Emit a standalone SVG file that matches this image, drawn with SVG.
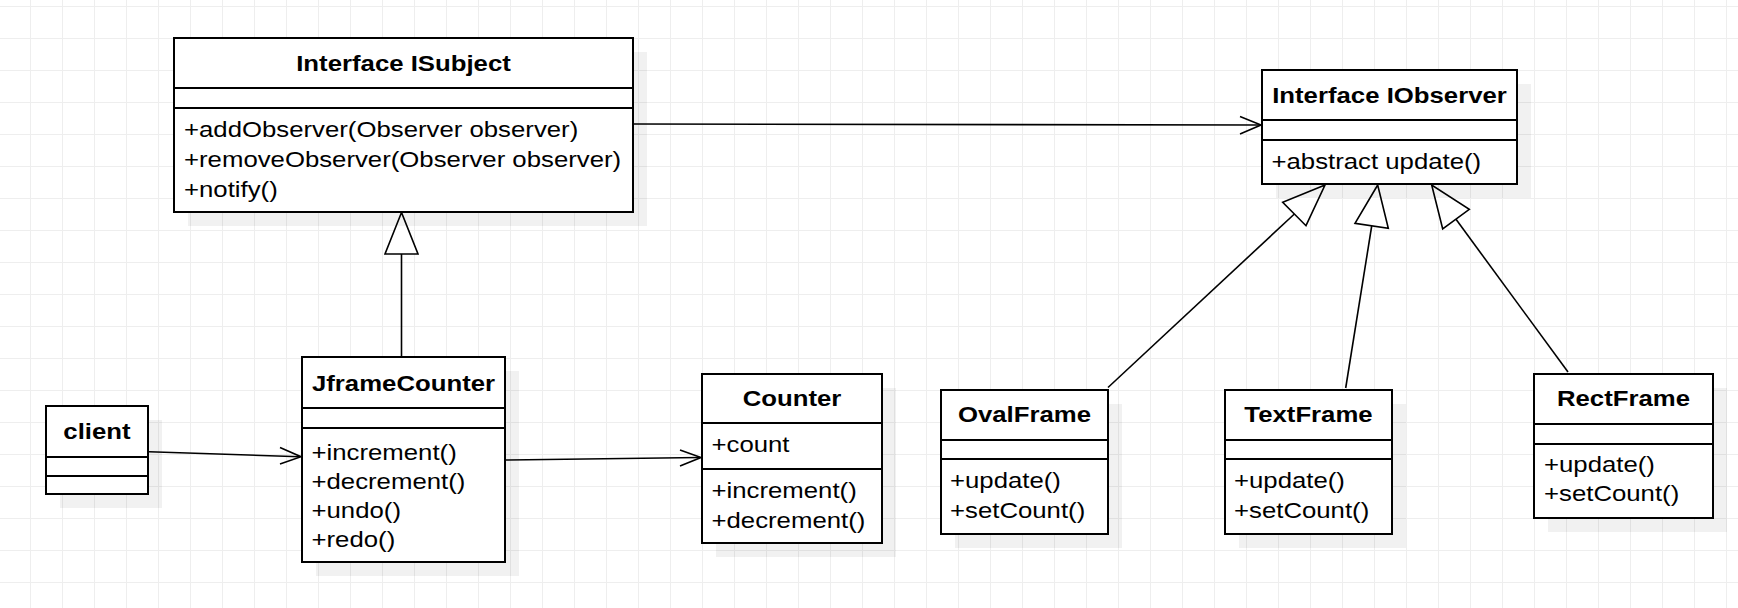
<svg xmlns="http://www.w3.org/2000/svg" width="1738" height="608" viewBox="0 0 1738 608">
<defs>
<pattern id="grid" x="30" y="6" width="32" height="32" patternUnits="userSpaceOnUse">
<path d="M0 0.5H32M0.5 0V32" fill="none" stroke="#eeeeee" stroke-width="1"/>
</pattern>
<style>
.box{fill:#fff;stroke:#000;stroke-width:2}
.sh{fill:#000;fill-opacity:0.055}
.sep{stroke:#000;stroke-width:2}
.ln{fill:none;stroke:#000;stroke-width:1.6}
.tri{fill:#fff;stroke:#000;stroke-width:1.6;stroke-linejoin:miter}
.t{font-family:"Liberation Sans",Arial,sans-serif;font-size:23px;font-weight:bold;text-anchor:middle;fill:#000}
.m{font-family:"Liberation Sans",Arial,sans-serif;font-size:23px;fill:#000}
</style>
</defs>
<rect width="1738" height="608" fill="#fff"/>
<rect width="1738" height="608" fill="url(#grid)"/>

<g id="connectors">
<line class="ln" x1="634" y1="124" x2="1260" y2="125"/>
<polyline class="ln" points="1240,116.5 1261,125 1240,134"/>
<line class="ln" x1="149" y1="451.7" x2="300" y2="456.7"/>
<polyline class="ln" points="280,447.5 301,456.7 280,464"/>
<line class="ln" x1="506" y1="460" x2="700" y2="457.5"/>
<polyline class="ln" points="680,450 701,457.5 680,466"/>
<line class="ln" x1="401.5" y1="356" x2="401.5" y2="254"/>
<polygon class="tri" points="401.5,212.5 385,254 418,254"/>
<line class="ln" x1="1108" y1="387.5" x2="1294.4" y2="214"/>
<polygon class="tri" points="1325,185 1282.7,202.3 1306,225.7"/>
<line class="ln" x1="1345.7" y1="388" x2="1371.7" y2="226"/>
<polygon class="tri" points="1377.7,185 1355,223.3 1388.3,228.3"/>
<line class="ln" x1="1568" y1="372" x2="1456" y2="219.3"/>
<polygon class="tri" points="1431.7,185 1442.7,229 1469.3,209.3"/>
</g>

<g id="ISubject">
<rect class="sh" x="188" y="52" width="459" height="174"/>
<rect class="box" x="174" y="38" width="459" height="174"/>
<line class="sep" x1="174" y1="88" x2="633" y2="88"/>
<line class="sep" x1="174" y1="108" x2="633" y2="108"/>
<text class="t" transform="translate(403.5,71) scale(1.12,1)">Interface ISubject</text>
<text class="m" transform="translate(184,137) scale(1.12,1)">+addObserver(Observer observer)</text>
<text class="m" transform="translate(184,167) scale(1.12,1)">+removeObserver(Observer observer)</text>
<text class="m" transform="translate(184,197) scale(1.12,1)">+notify()</text>
</g>

<g id="IObserver">
<rect class="sh" x="1276" y="84" width="255" height="114"/>
<rect class="box" x="1262" y="70" width="255" height="114"/>
<line class="sep" x1="1262" y1="120" x2="1517" y2="120"/>
<line class="sep" x1="1262" y1="140" x2="1517" y2="140"/>
<text class="t" transform="translate(1389.5,103) scale(1.12,1)">Interface IObserver</text>
<text class="m" transform="translate(1271.5,169) scale(1.12,1)">+abstract update()</text>
</g>

<g id="client">
<rect class="sh" x="60" y="420" width="102" height="88"/>
<rect class="box" x="46" y="406" width="102" height="88"/>
<line class="sep" x1="46" y1="457" x2="148" y2="457"/>
<line class="sep" x1="46" y1="476" x2="148" y2="476"/>
<text class="t" transform="translate(97,439) scale(1.12,1)">client</text>
</g>

<g id="JframeCounter">
<rect class="sh" x="316" y="371" width="203" height="205"/>
<rect class="box" x="302" y="357" width="203" height="205"/>
<line class="sep" x1="302" y1="408" x2="505" y2="408"/>
<line class="sep" x1="302" y1="428" x2="505" y2="428"/>
<text class="t" transform="translate(403.5,391) scale(1.12,1)">JframeCounter</text>
<text class="m" transform="translate(311.5,460) scale(1.12,1)">+increment()</text>
<text class="m" transform="translate(311.5,489) scale(1.12,1)">+decrement()</text>
<text class="m" transform="translate(311.5,518) scale(1.12,1)">+undo()</text>
<text class="m" transform="translate(311.5,547) scale(1.12,1)">+redo()</text>
</g>

<g id="Counter">
<rect class="sh" x="716" y="388" width="180" height="169"/>
<rect class="box" x="702" y="374" width="180" height="169"/>
<line class="sep" x1="702" y1="423" x2="882" y2="423"/>
<line class="sep" x1="702" y1="469" x2="882" y2="469"/>
<text class="t" transform="translate(792,406) scale(1.12,1)">Counter</text>
<text class="m" transform="translate(711.5,452) scale(1.12,1)">+count</text>
<text class="m" transform="translate(711.5,498) scale(1.12,1)">+increment()</text>
<text class="m" transform="translate(711.5,528) scale(1.12,1)">+decrement()</text>
</g>

<g id="OvalFrame">
<rect class="sh" x="955" y="404" width="167" height="144"/>
<rect class="box" x="941" y="390" width="167" height="144"/>
<line class="sep" x1="941" y1="440" x2="1108" y2="440"/>
<line class="sep" x1="941" y1="459" x2="1108" y2="459"/>
<text class="t" transform="translate(1024.5,422) scale(1.12,1)">OvalFrame</text>
<text class="m" transform="translate(950,488) scale(1.12,1)">+update()</text>
<text class="m" transform="translate(950,518) scale(1.12,1)">+setCount()</text>
</g>

<g id="TextFrame">
<rect class="sh" x="1239" y="404" width="167" height="144"/>
<rect class="box" x="1225" y="390" width="167" height="144"/>
<line class="sep" x1="1225" y1="440" x2="1392" y2="440"/>
<line class="sep" x1="1225" y1="459" x2="1392" y2="459"/>
<text class="t" transform="translate(1308.5,422) scale(1.12,1)">TextFrame</text>
<text class="m" transform="translate(1234,488) scale(1.12,1)">+update()</text>
<text class="m" transform="translate(1234,518) scale(1.12,1)">+setCount()</text>
</g>

<g id="RectFrame">
<rect class="sh" x="1548" y="388" width="179" height="144"/>
<rect class="box" x="1534" y="374" width="179" height="144"/>
<line class="sep" x1="1534" y1="424" x2="1713" y2="424"/>
<line class="sep" x1="1534" y1="444" x2="1713" y2="444"/>
<text class="t" transform="translate(1623.5,406) scale(1.12,1)">RectFrame</text>
<text class="m" transform="translate(1544,472) scale(1.12,1)">+update()</text>
<text class="m" transform="translate(1544,501) scale(1.12,1)">+setCount()</text>
</g>
</svg>
